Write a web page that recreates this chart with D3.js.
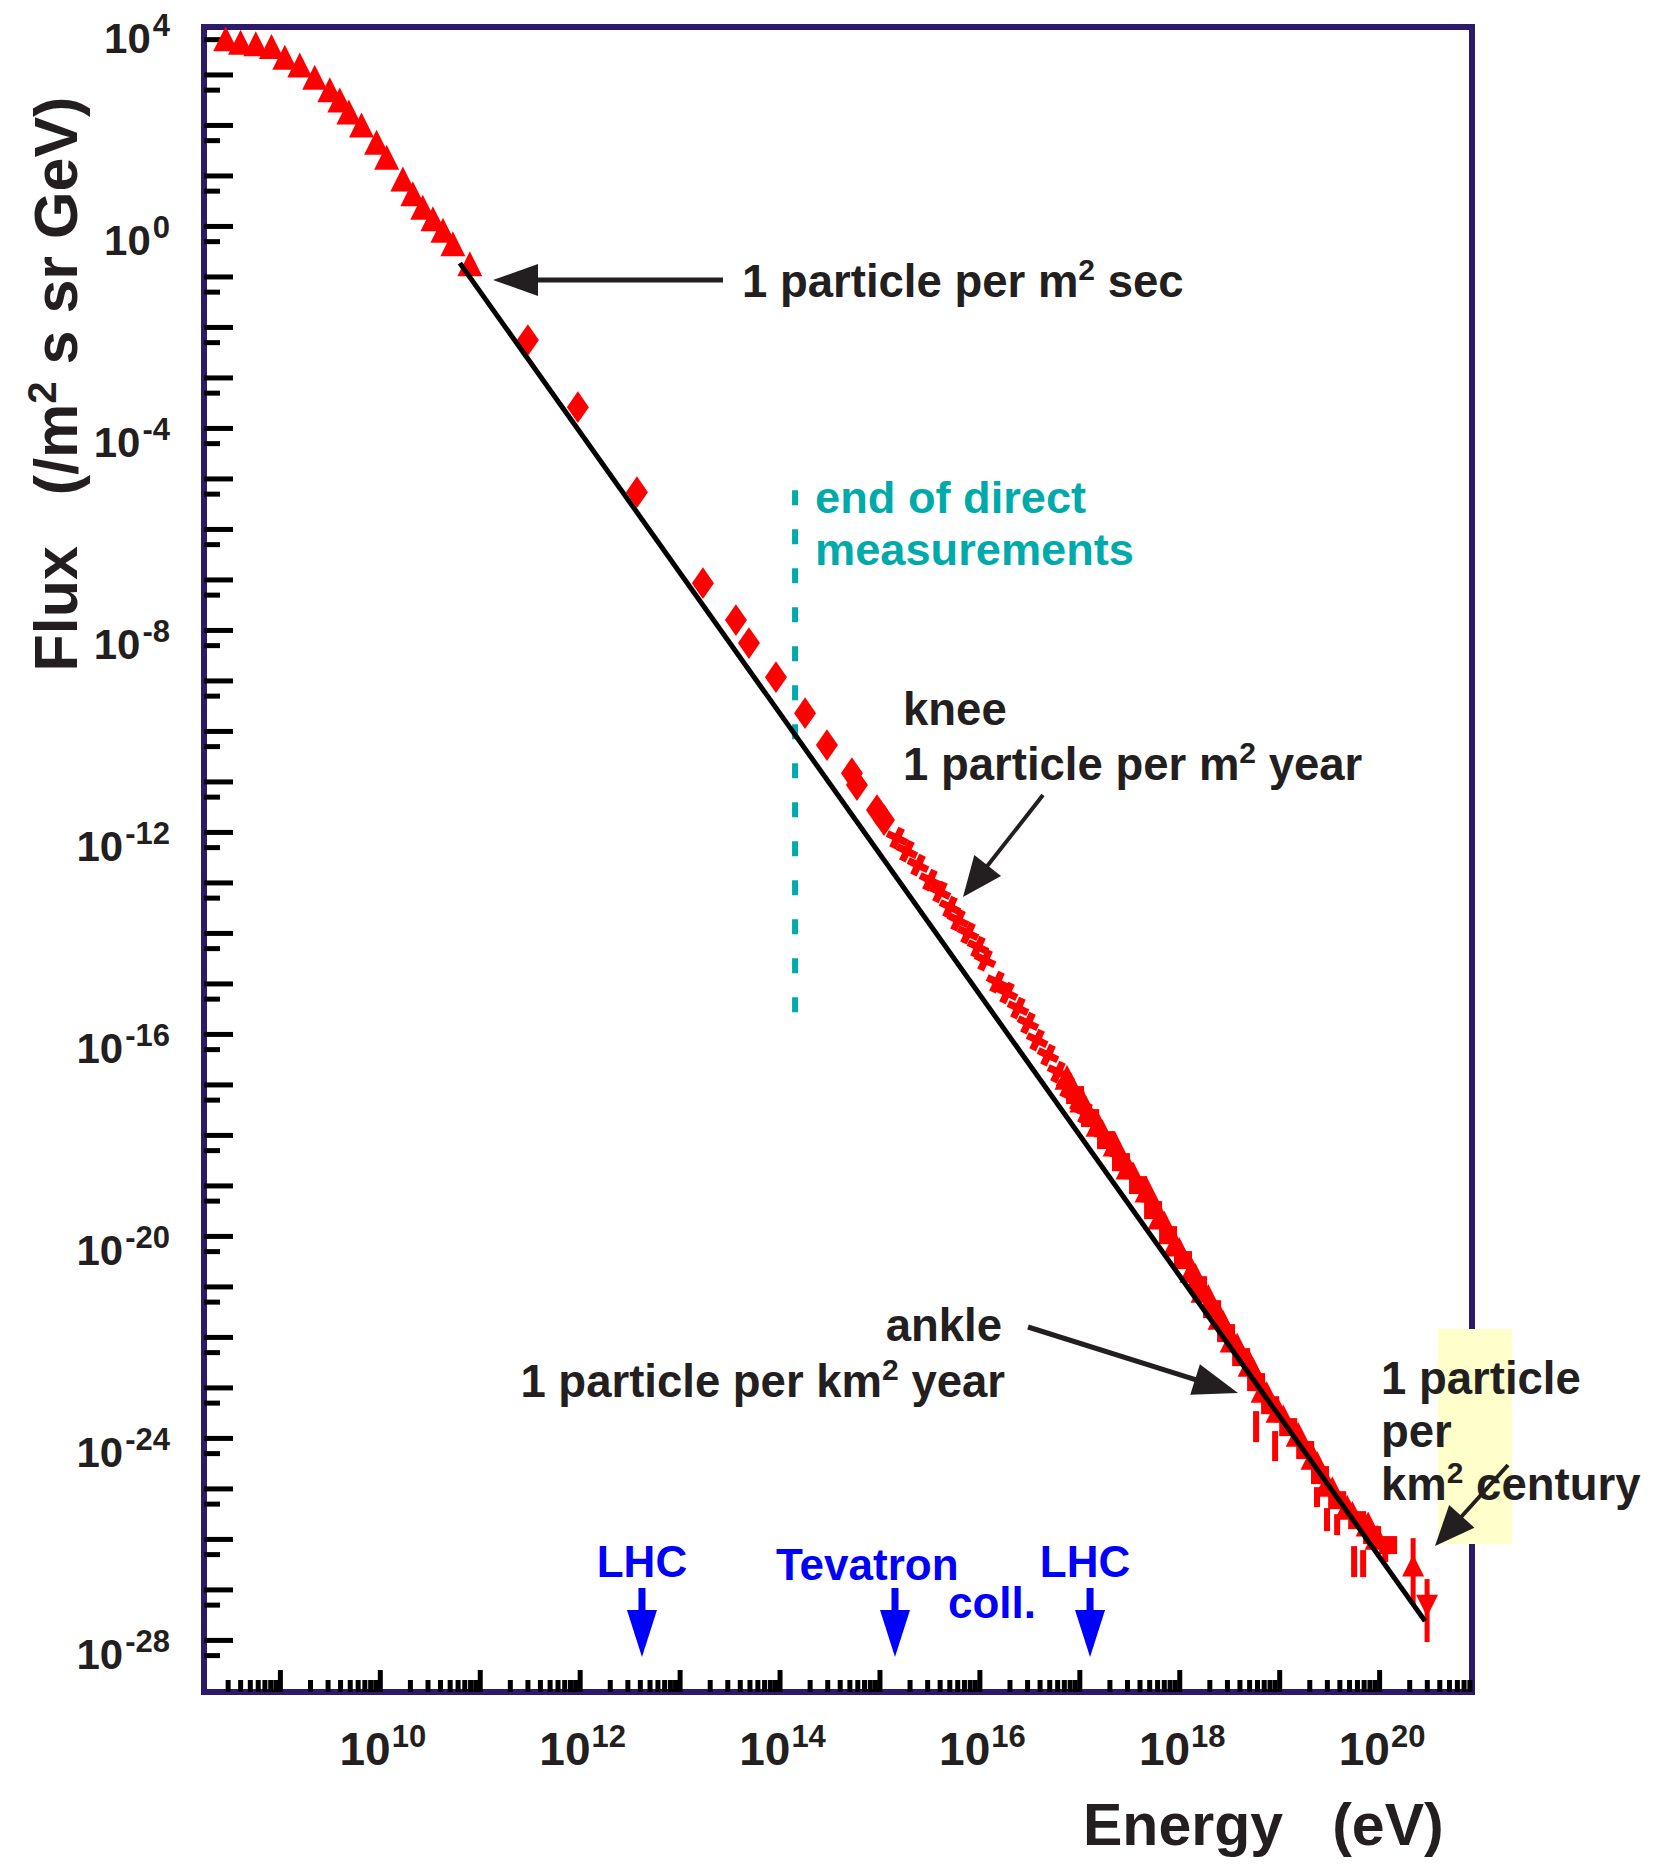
<!DOCTYPE html>
<html><head><meta charset="utf-8">
<script src="https://cdn.jsdelivr.net/npm/d3@7"></script>
<style>
html,body{margin:0;padding:0;background:#fff;}
svg{display:block;}
text{font-family:"Liberation Sans",Arial,Helvetica,sans-serif;font-weight:bold;}
</style></head><body>
<svg id="chart" width="1654" height="1865"></svg>
<script>
// ---------------- DATA ----------------
const xTickExponents = [10, 12, 14, 16, 18, 20];
const yTickExponents = [4, 0, -4, -8, -12, -16, -20, -24, -28];

// direct measurements (triangles): energy (eV), flux (/m2 s sr GeV)
const directE = [2.87e8, 4.04e8, 5.74e8, 8.24e8, 1.12e9, 1.58e9, 2.23e9, 3.16e9, 3.98e9, 4.90e9,
                 6.56e9, 9.27e9, 1.17e10, 1.70e10, 2.14e10, 2.69e10, 3.40e10, 4.28e10, 5.38e10, 7.96e10];
const directF = [8.85e3, 7.60e3, 7.05e3, 6.25e3, 3.84e3, 2.67e3, 1.54e3, 865, 541, 313,
                 173, 79.6, 40.2, 14.9, 7.53, 4.11, 2.41, 1.44, 0.771, 0.310];

// balloon / satellite (diamonds)
const balloonE = [3.03e11, 9.59e11, 3.74e12, 1.71e13, 3.66e13, 4.94e13, 9.21e13, 1.80e14, 2.98e14, 5.30e14, 5.95e14, 9.44e14, 1.11e15];
const balloonF = [1.10e-2, 5.16e-4, 1.07e-5, 1.69e-7, 3.13e-8, 1.10e-8, 2.32e-9, 4.50e-10, 1.05e-10, 2.92e-11, 1.69e-11, 5.41e-12, 3.43e-12];

// air shower arrays around the knee (crosses)
const kneeE = [1.50e15, 1.88e15, 2.43e15, 3.20e15, 4.03e15, 5.08e15, 6.11e15, 7.69e15, 9.68e15, 1.14e16,
               1.50e16, 1.89e16, 2.43e16, 3.06e16, 3.78e16, 4.86e16, 6.12e16, 7.54e16, 9.48e16, 1.14e17];
const kneeF = [1.51e-12, 8.33e-13, 4.40e-13, 2.22e-13, 1.29e-13, 6.49e-14, 3.58e-14, 1.98e-14, 1.05e-14, 5.78e-15,
               2.12e-15, 1.29e-15, 6.49e-16, 3.27e-16, 1.51e-16, 7.60e-17, 3.51e-17, 1.77e-17, 9.77e-18, 5.41e-18];

// ultra high energy experiments (triangles)
const uheE1 = [7.53e16, 1.06e17, 1.54e17, 2.28e17, 3.07e17, 4.76e17, 6.43e17, 9.08e17, 1.34e18, 1.73e18, 2.56e18,
               3.38e18, 5.12e18, 6.90e18, 9.75e18, 1.55e19, 2.18e19, 3.01e19, 4.79e19, 7.76e19, 9.55e19];
const uheF1 = [2.43e-17, 8.53e-18, 2.85e-18, 1.15e-18, 4.02e-19, 1.41e-19, 4.11e-20, 1.20e-20, 3.66e-21, 1.47e-21, 4.30e-22,
               1.51e-22, 5.04e-23, 1.54e-23, 6.19e-24, 2.07e-24, 7.26e-25, 2.12e-25, 7.43e-26, 3.43e-26, 1.89e-26];
// ultra high energy experiments (squares)
const uheE2 = [9.06e16, 1.28e17, 1.85e17, 2.61e17, 3.87e17, 5.47e17, 7.73e17, 1.09e18, 1.54e18, 2.13e18, 2.94e18,
               4.16e18, 5.87e18, 8.11e18, 1.23e19, 1.82e19, 2.56e19, 3.80e19, 6.03e19, 8.51e19, 1.23e20];
const uheF2 = [1.23e-17, 4.31e-18, 1.58e-18, 5.78e-19, 2.03e-19, 6.49e-20, 2.07e-20, 6.64e-21, 2.12e-21, 7.10e-22, 2.38e-22,
               7.96e-23, 2.55e-23, 8.91e-24, 3.27e-24, 1.15e-24, 3.67e-25, 1.17e-25, 4.71e-26, 2.38e-26, 1.51e-26];
// ultra high energy experiments (small triangles, upper side of the band)
const uheE3 = [8.3e16, 1.17e17, 1.70e17, 2.45e17, 3.45e17, 5.10e17, 7.10e17, 1.00e18, 1.45e18, 1.95e18, 2.75e18,
               3.80e18, 5.50e18, 7.50e18, 1.10e19, 1.65e19, 2.40e19, 3.40e19, 5.40e19];
const uheF3 = [2.05e-17, 7.2e-18, 2.45e-18, 1.0e-18, 3.6e-19, 1.25e-19, 3.8e-20, 1.15e-20, 3.5e-21, 1.35e-21, 4.1e-22,
               1.45e-22, 4.7e-23, 1.6e-23, 5.5e-24, 1.9e-24, 6.6e-25, 2.1e-25, 6.8e-26];
// error bars of the highest energy points
const errE    = [5.87e18, 9.10e18, 2.39e19, 3.01e19, 3.80e19, 5.62e19, 6.92e19, 1.15e20];
const errFtop = [6.79e-24, 2.73e-24, 2.12e-25, 8.15e-26, 6.19e-26, 1.44e-26, 1.20e-26, 1.89e-26];
const errFbot = [1.65e-24, 6.95e-25, 8.53e-26, 2.85e-26, 2.38e-26, 3.51e-27, 3.51e-27, 6.95e-27];
// two last points (triangle up / triangle down) with bars
const lastE    = [2.19e20, 3.02e20];
const lastF    = [5.28e-27, 1.07e-27];
const lastFtop = [2.07e-26, 3.20e-27];
const lastFbot = [1.02e-27, 1.81e-28];

// E^-2.78 reference power law
const fitE = [6.32e10, 2.88e20];
const fitF = [0.367, 4.71e-28];

// accelerator energies
const colliderNames = ["LHC", "Tevatron", "LHC"];
const colliderE = [4.2e12, 1.43e15, 1.28e17];

// end of direct measurements
const directEndE = 1.43e14;
const directEndF = [1.17e-5, 4.3e-16];

// ---------------- DRAWING ----------------
const svg = d3.select("#chart");
const RED = "#ff0000", INK = "#231f20", FRAME = "#2c1a6b", BLUE = "#0000ff", TEAL = "#00aaaa";

const x = d3.scaleLog().domain([1.74e8, 8.5e20]).range([204, 1472]);
const y = d3.scaleLog().domain([1.74e4, 1.86e-29]).range([27, 1692]);

// frame
svg.append("rect").attr("x", 204).attr("y", 27).attr("width", 1268).attr("height", 1665)
  .attr("fill", "none").attr("stroke", FRAME).attr("stroke-width", 6);

// y ticks
const yDec = d3.range(-28, 5).map(p => Math.pow(10, p));
const yTwo = d3.range(-28, 4).map(p => 2 * Math.pow(10, p));
const gy = svg.append("g").attr("transform", "translate(204,0)");
gy.append("g").call(d3.axisLeft(y).tickValues(yDec).tickSize(-16).tickFormat(""));
gy.append("g").call(d3.axisLeft(y).tickValues(yTwo).tickSize(-29).tickFormat(""));
gy.selectAll(".domain").remove();
gy.selectAll("line").attr("stroke", "#000").attr("stroke-width", 5);

// x ticks
const xDec = d3.range(9, 21).map(p => Math.pow(10, p));
const xMinor = [];
d3.range(8, 21).forEach(p => d3.range(2, 10).forEach(m => {
  const v = m * Math.pow(10, p);
  if (v > 2.1e8 && v < 8.4e20) xMinor.push(v);
}));
const gx = svg.append("g").attr("transform", "translate(0,1692)");
gx.append("g").call(d3.axisBottom(x).tickValues(xDec).tickSize(-22).tickFormat(""));
gx.append("g").call(d3.axisBottom(x).tickValues(xMinor).tickSize(-12).tickFormat(""));
gx.selectAll(".domain").remove();
gx.selectAll("line").attr("stroke", "#000").attr("stroke-width", 5);

// y tick labels
const yl = svg.append("g").attr("fill", INK);
yTickExponents.forEach(p => {
  const t = yl.append("text").attr("x", 170).attr("y", y(Math.pow(10, p)) + 14)
    .attr("text-anchor", "end");
  t.append("tspan").attr("font-size", 42).text("10");
  t.append("tspan").attr("font-size", 31).attr("dx", 2).attr("dy", -17).text(String(p));
});
// x tick labels
const xl = svg.append("g").attr("fill", INK);
xTickExponents.forEach(p => {
  const t = xl.append("text").attr("x", x(Math.pow(10, p)) + 3).attr("y", 1765)
    .attr("text-anchor", "middle");
  t.append("tspan").attr("font-size", 46).text("10");
  t.append("tspan").attr("font-size", 31).attr("dx", 1).attr("dy", -18).text(String(p));
});

// axis titles
const yt = svg.append("text").attr("transform", "translate(77,384) rotate(-90)")
  .attr("text-anchor", "middle").attr("font-size", 61).attr("fill", INK);
yt.append("tspan").text("Flux\u00a0\u00a0\u00a0(/m");
yt.append("tspan").attr("font-size", 40).attr("dy", -21).text("2");
yt.append("tspan").attr("dy", 21).text(" s sr GeV)");
svg.append("text").attr("x", 1083).attr("y", 1845).attr("font-size", 59).attr("fill", INK)
  .text("Energy\u00a0\u00a0\u00a0(eV)");

// end of direct measurements
svg.append("line").attr("x1", x(directEndE)).attr("x2", x(directEndE))
  .attr("y1", y(directEndF[0])).attr("y2", y(directEndF[1]))
  .attr("stroke", TEAL).attr("stroke-width", 6).attr("stroke-dasharray", "15 24");
const tt = svg.append("g").attr("fill", TEAL).attr("font-size", 45.2);
tt.append("text").attr("x", 815).attr("y", 513).text("end of direct");
tt.append("text").attr("x", 815).attr("y", 565).text("measurements");

// marker shapes
const triUp = {draw(c, s) { c.moveTo(0, -s * 0.62); c.lineTo(s / 2, s * 0.38); c.lineTo(-s / 2, s * 0.38); c.closePath(); }};
const triDown = {draw(c, s) { c.moveTo(0, s * 0.62); c.lineTo(s / 2, -s * 0.38); c.lineTo(-s / 2, -s * 0.38); c.closePath(); }};
const diamond = {draw(c, s) { c.moveTo(0, -s * 0.72); c.lineTo(s / 2, 0); c.lineTo(0, s * 0.72); c.lineTo(-s / 2, 0); c.closePath(); }};
const square = {draw(c, s) { c.rect(-s / 2, -s / 2, s, s); }};

const marks = svg.append("g").attr("fill", RED);
function series(E, F, type, size, rot) {
  marks.append("g").selectAll("path").data(E.map((e, i) => [e, F[i]])).join("path")
    .attr("d", d3.symbol().type(type).size(size))
    .attr("transform", d => `translate(${x(d[0])},${y(d[1])}) rotate(${rot || 0})`);
}
series(directE, directF, triUp, 25);
series(balloonE, balloonF, diamond, 22);
series(kneeE, kneeF, d3.symbolCross, 260, 25);
series(uheE2, uheF2, square, 18);
series(uheE3, uheF3, triUp, 18);
series(uheE1, uheF1, triUp, 25);
// error bars
marks.append("g").selectAll("line").data(errE.map((e, i) => [e, errFtop[i], errFbot[i]])).join("line")
  .attr("x1", d => x(d[0])).attr("x2", d => x(d[0]))
  .attr("y1", d => y(d[1])).attr("y2", d => y(d[2]))
  .attr("stroke", RED).attr("stroke-width", 6);
marks.append("g").selectAll("line").data(lastE.map((e, i) => [e, lastFtop[i], lastFbot[i]])).join("line")
  .attr("x1", d => x(d[0])).attr("x2", d => x(d[0]))
  .attr("y1", d => y(d[1])).attr("y2", d => y(d[2]))
  .attr("stroke", RED).attr("stroke-width", 5);
series([lastE[0]], [lastF[0]], triUp, 22);
series([lastE[1]], [lastF[1]], triDown, 22);

// fit line
svg.append("line").attr("x1", x(fitE[0])).attr("y1", y(fitF[0]))
  .attr("x2", x(fitE[1])).attr("y2", y(fitF[1]))
  .attr("stroke", "#000").attr("stroke-width", 5);

// arrows helper
function arrow(g, x1, y1, x2, y2, hl, hw, lw, col) {
  const a = Math.atan2(y2 - y1, x2 - x1);
  const bx = x2 - hl * Math.cos(a), by = y2 - hl * Math.sin(a);
  g.append("line").attr("x1", x1).attr("y1", y1).attr("x2", bx + 2 * Math.cos(a)).attr("y2", by + 2 * Math.sin(a))
    .attr("stroke", col).attr("stroke-width", lw);
  const px = -Math.sin(a) * hw, py = Math.cos(a) * hw;
  g.append("path").attr("d", `M${x2},${y2}L${bx + px},${by + py}L${bx - px},${by - py}Z`).attr("fill", col);
}

// annotations (black)
const ann = svg.append("g").attr("fill", INK).attr("font-size", 45.5);
function supText(xp, yp, before, sup, after, anchor) {
  const t = ann.append("text").attr("x", xp).attr("y", yp).attr("text-anchor", anchor || "start");
  t.append("tspan").text(before);
  t.append("tspan").attr("font-size", 30).attr("dy", -17).text(sup);
  t.append("tspan").attr("dy", 17).text(after);
}
arrow(svg, 723, 280, 493, 280, 45, 16, 5, INK);
supText(742, 297, "1 particle per m", "2", " sec");

ann.append("text").attr("x", 903).attr("y", 725).text("knee");
supText(903, 780, "1 particle per m", "2", " year");
arrow(svg, 1043, 795, 963, 897, 40, 17, 4, INK);

ann.append("text").attr("x", 1002).attr("y", 1341).attr("text-anchor", "end").text("ankle");
supText(1005, 1397, "1 particle per km", "2", " year", "end");
arrow(svg, 1028, 1327, 1238, 1393, 45, 16, 5, INK);

// yellow highlight
svg.append("rect").attr("x", 1438).attr("y", 1329).attr("width", 74).attr("height", 215).attr("fill", "#ffffcc");
ann.raise();
ann.append("text").attr("x", 1381).attr("y", 1394).text("1 particle");
ann.append("text").attr("x", 1381).attr("y", 1447).text("per");
supText(1381, 1500, "km", "2", " century");
arrow(svg, 1508, 1465, 1435, 1546, 40, 17, 4, INK);

// colliders (blue)
const col = svg.append("g").attr("fill", BLUE).attr("font-size", 44);
colliderE.forEach((e, i) => {
  arrow(col, x(e), 1588, x(e), 1657, 47, 15, 7, BLUE);
});
col.append("text").attr("x", x(colliderE[0])).attr("y", 1577).attr("text-anchor", "middle").text(colliderNames[0]);
col.append("text").attr("x", 776).attr("y", 1580).text(colliderNames[1]);
col.append("text").attr("x", 948).attr("y", 1618).text("coll.");
col.append("text").attr("x", x(colliderE[2]) - 5).attr("y", 1577).attr("text-anchor", "middle").text(colliderNames[2]);
</script>
</body></html>
